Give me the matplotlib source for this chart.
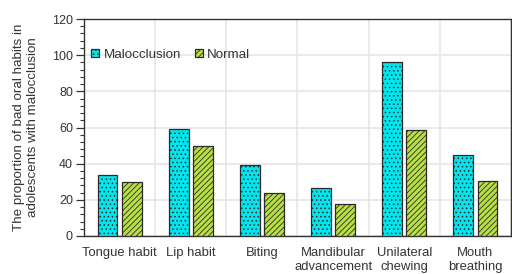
import matplotlib
matplotlib.use("Agg")
import matplotlib.pyplot as plt
import numpy as np
from matplotlib.ticker import MultipleLocator

categories = ["Tongue habit", "Lip habit", "Biting", "Mandibular\nadvancement",
              "Unilateral\nchewing", "Mouth\nbreathing"]
malocclusion = [34, 59, 39, 26.5, 96, 44.7]
normal = [29.7, 49.8, 23.7, 17.6, 58.7, 30.6]
series_names = ["Malocclusion", "Normal"]

plt.rcParams['font.family'] = ['Liberation Sans', 'DejaVu Sans']
plt.rcParams['hatch.linewidth'] = 0.6
plt.rcParams['hatch.color'] = '#1a1a1a'

fig = plt.figure(figsize=(5.12, 2.74), dpi=100)
ax = fig.add_axes([84/512, 1 - 236/274, (511 - 84)/512, (236 - 19)/274])

x = np.arange(len(categories))
w = 0.28
off = 0.17
ax.bar(x - off, malocclusion, w, color='#00e6ee', edgecolor='#2a2a2a', linewidth=0.9,
       hatch='....', label=series_names[0], zorder=3)
ax.bar(x + off, normal, w, color='#b9e043', edgecolor='#2a2a2a', linewidth=0.9,
       hatch='//////', label=series_names[1], zorder=3)

ax.set_xlim(-0.5, len(categories) - 0.5)
ax.set_ylim(0, 120)
ax.yaxis.set_major_locator(MultipleLocator(20))
ax.yaxis.set_minor_locator(MultipleLocator(4))
ax.set_xticks(x)
ax.set_xticklabels(categories, fontsize=9.4, color='#333333', linespacing=1.25)
ax.set_xticks(np.arange(len(categories) + 1) - 0.5, minor=True)
ax.tick_params(axis='x', which='both', length=0, pad=8)
ax.tick_params(axis='y', which='major', length=5.5, width=0.9, labelsize=9, pad=2.5,
               labelcolor='#333333', color='#333333')
ax.tick_params(axis='y', which='minor', length=3, width=0.8, color='#333333')
ax.grid(True, which='major', axis='y', color='#e6e6e6', linewidth=1.2, zorder=0)
ax.grid(True, which='minor', axis='x', color='#e6e6e6', linewidth=1.2, zorder=0)
for s in ax.spines.values():
    s.set_color('#333333')
    s.set_linewidth(1.0)

ax.set_ylabel("The proportion of bad oral habits in\nadolescents with malocclusion",
              fontsize=9.6, color='#333333', labelpad=9, linespacing=1.3)

leg = ax.legend(loc='upper left', bbox_to_anchor=(-0.005, 0.905), ncol=2, frameon=False,
                fontsize=9.6, handlelength=0.6, handleheight=0.6, handletextpad=0.35,
                columnspacing=1.0, borderaxespad=0.3)
for t in leg.get_texts():
    t.set_color('#333333')

fig.savefig("out.png", dpi=100)
